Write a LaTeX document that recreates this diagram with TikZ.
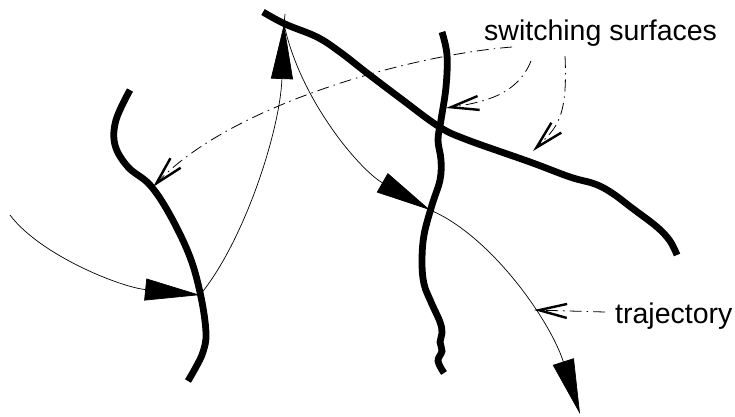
\documentclass[tikz,border=0pt]{standalone}
\usepackage{fontspec}
\setmainfont{Liberation Sans}
\usetikzlibrary{arrows.meta}
\begin{document}
\begin{tikzpicture}[x=1pt,y=-1pt,
  surface/.style={line width=6.8pt},
  traj/.style={line width=0.7pt,-{Triangle[length=55pt,width=22pt]}},
  leader/.style={line width=0.8pt,dash pattern=on 12pt off 5pt on 1.5pt off 5pt,
    -{Straight Barb[length=28pt,width=14pt,line width=2.4pt]}},
  label/.style={anchor=base west,inner sep=0pt,font=\fontsize{28.5}{32}\selectfont}]
\useasboundingbox (0,0) rectangle (735,416);

% switching surfaces
\draw[surface] plot[smooth,tension=0.6] coordinates {
  (130,90) (116,120) (115,145) (128,167) (150,185) (170,215) (190,257)
  (201,297) (206,333) (203,352) (196,367) (188,381)};
\draw[surface] plot[smooth,tension=0.6] coordinates {
  (442,32) (447,55) (446,87) (441,120) (438,140) (441,160) (440,180)
  (432,205) (424,235) (422,262) (424,284) (431,302) (440,322) (442,333)
  (440,342) (442,351) (438,361) (444,373)};
\draw[surface] plot[smooth,tension=0.6] coordinates {
  (263,12) (285,24) (317,37) (340,52) (367,73) (400,98) (438,126)
  (465,139) (530,162) (570,177) (595,184) (612,193) (632,208) (657,227)
  (670,241) (677,255)};

% intersection points of the trajectory with the surfaces
\coordinate (hitA) at (200,295);
\coordinate (hitB) at (284,24);
\coordinate (hitC) at (430,210);
\coordinate (start) at (10,215);
\coordinate (finish) at (580,414);

% trajectory
\draw[traj] (start) .. controls (40,255) and (120,287) .. (hitA);
\draw[traj] (hitA) .. controls (245,240) and (280,130) .. (hitB);
\draw[line width=0.7pt] (hitB) -- (285,14);
\draw[traj] (hitB) .. controls (300,100) and (360,170) .. (hitC);
\draw[traj] (hitC) .. controls (490,235) and (550,320) .. (finish);

% labels
\node[label] (ss) at (484,40) {switching surfaces};
\node[label] (tr) at (615,323) {trajectory};

% leader lines
\coordinate (tipL) at (153,187);
\coordinate (tipM) at (446,108);
\coordinate (tipR) at (533,151);
\coordinate (tipT) at (534,310);
\draw[leader] (512,47) .. controls (410,55) and (230,105) .. (tipL);
\draw[leader] (531,61) .. controls (517,95) and (485,102) .. (tipM);
\draw[leader] (565,56) .. controls (568,120) and (556,128) .. (tipR);
\draw[leader] (605,312) -- (tipT);
\end{tikzpicture}
\end{document}
